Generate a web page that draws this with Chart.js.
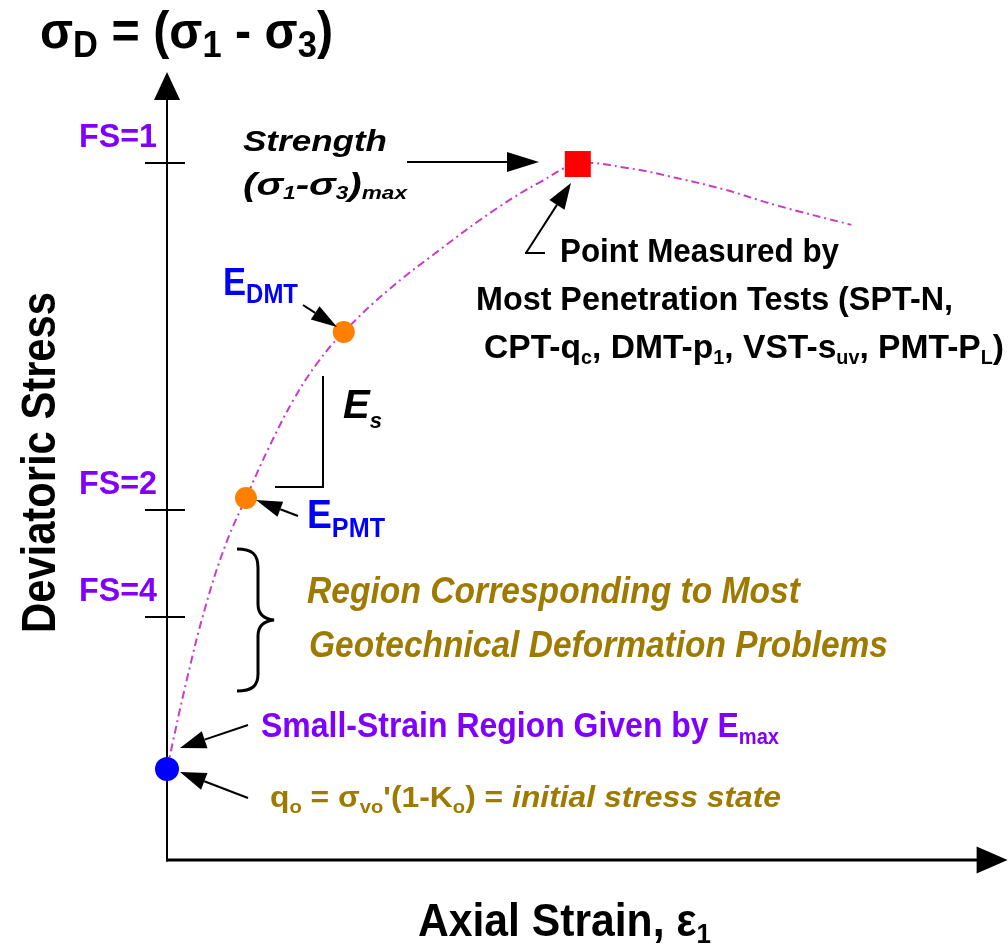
<!DOCTYPE html>
<html>
<head>
<meta charset="utf-8">
<script src="https://cdn.jsdelivr.net/npm/chart.js@4.4.0/dist/chart.umd.min.js"></script>
<style>
  html, body { margin: 0; padding: 0; background: #ffffff; }
  #wrap { width: 1008px; height: 945px; }
</style>
</head>
<body>
<div id="wrap"><canvas id="c" width="1008" height="945"></canvas></div>
<script>
// ---- Data (schematic units: axial strain 0-100, deviatoric stress 0-100) ----
const curveStrain = [0, 2.4, 4.8, 7.2, 9.6, 12.36, 15.37, 18.37, 21.49, 26.77, 33.13, 39.98, 45.38, 49.94, 55.94, 61.94, 67.95, 73.95, 83.19];
const curveStress = [11.55, 22.84, 32.61, 40.23, 45.94, 52.28, 58.38, 63.2, 67.01, 72.21, 77.41, 82.61, 86.04, 88.32, 87.82, 86.55, 85.03, 83.12, 80.6];
const initialStrain = [0];
const initialStress = [11.55];
const modulusStrain = [9.6, 21.49];   // E_PMT, E_DMT
const modulusStress = [45.94, 67.01];
const peakStrain = [49.94];
const peakStress = [88.32];
const fsValues = [88.45, 44.4, 30.8];
const fsLabels = ['FS=1', 'FS=2', 'FS=4'];

const toXY = (xs, ys) => xs.map((x, i) => ({ x: x, y: ys[i] }));

const FONT = "'Liberation Sans', Arial, Helvetica, sans-serif";
const PURPLE = '#8000ff';
const OLIVE = '#9e7b00';
const BLUE = '#0000ff';

// draw a run of text segments fitted to a target width
function fitText(ctx, segs, x, y, w, o) {
  const size = o.size, sub = o.sub || Math.round(size * 0.62), subDy = o.subDy || Math.round(size * 0.2);
  const weight = o.weight || 'bold';
  const fontFor = s => {
    const it = (s.it !== undefined ? s.it : o.italic) ? 'italic ' : '';
    return it + weight + ' ' + (s.s ? sub : size) + 'px ' + FONT;
  };
  let total = 0;
  const widths = segs.map(s => { ctx.font = fontFor(s); const m = ctx.measureText(s.t).width; total += m; return m; });
  const sx = w / total;
  ctx.save();
  ctx.translate(x, y);
  if (o.rotate) ctx.rotate(o.rotate);
  ctx.scale(sx, 1);
  ctx.fillStyle = o.color || '#000';
  ctx.textBaseline = 'alphabetic';
  ctx.textAlign = 'left';
  let cx = 0;
  segs.forEach((s, i) => {
    ctx.font = fontFor(s);
    ctx.fillText(s.t, cx, s.s ? subDy : 0);
    cx += widths[i];
  });
  ctx.restore();
}
const N = t => ({ t: t });
const S = t => ({ t: t, s: true });

function arrow(ctx, x1, y1, x2, y2, len, half, lw) {
  const a = Math.atan2(y2 - y1, x2 - x1);
  const bx = x2 - len * Math.cos(a), by = y2 - len * Math.sin(a);
  ctx.save();
  ctx.strokeStyle = '#000';
  ctx.fillStyle = '#000';
  ctx.lineWidth = lw || 2;
  ctx.beginPath(); ctx.moveTo(x1, y1); ctx.lineTo(bx, by); ctx.stroke();
  ctx.beginPath();
  ctx.moveTo(x2, y2);
  ctx.lineTo(bx + half * Math.sin(a), by - half * Math.cos(a));
  ctx.lineTo(bx - half * Math.sin(a), by + half * Math.cos(a));
  ctx.closePath(); ctx.fill();
  ctx.restore();
}

const axesPlugin = {
  id: 'axesPlugin',
  beforeDatasetsDraw(chart) {
    const ctx = chart.ctx, ca = chart.chartArea, ys = chart.scales.y;
    ctx.save();
    ctx.strokeStyle = '#000'; ctx.fillStyle = '#000';
    // y axis
    ctx.lineWidth = 2;
    ctx.beginPath(); ctx.moveTo(ca.left, ca.top + 26); ctx.lineTo(ca.left, ca.bottom + 1.5); ctx.stroke();
    ctx.beginPath(); ctx.moveTo(ca.left, ca.top); ctx.lineTo(ca.left - 13, ca.top + 28); ctx.lineTo(ca.left + 13, ca.top + 28); ctx.closePath(); ctx.fill();
    // x axis
    ctx.lineWidth = 3;
    ctx.beginPath(); ctx.moveTo(ca.left - 1, ca.bottom); ctx.lineTo(ca.right - 12, ca.bottom); ctx.stroke();
    ctx.beginPath(); ctx.moveTo(ca.right + 18, ca.bottom); ctx.lineTo(ca.right - 13, ca.bottom - 13.5); ctx.lineTo(ca.right - 13, ca.bottom + 13.5); ctx.closePath(); ctx.fill();
    // FS ticks
    ctx.lineWidth = 2;
    fsValues.forEach((v, i) => {
      const py = Math.round(ys.getPixelForValue(v));
      ctx.beginPath(); ctx.moveTo(ca.left - 22, py); ctx.lineTo(ca.left + 18, py); ctx.stroke();
      fitText(ctx, [N(fsLabels[i])], ca.left - 88, py - 16, 78, { size: 34, color: PURPLE });
    });
    ctx.restore();
  },
  afterDatasetsDraw(chart) {
    const ctx = chart.ctx;
    // title & axis titles
    fitText(ctx, [N('σ'), S('D'), N(' = ('), N('σ'), S('1'), N(' - '), N('σ'), S('3'), N(')')], 40, 48, 293, { size: 52, sub: 37, subDy: 9 });
    fitText(ctx, [N('Deviatoric Stress')], 55, 633, 341, { size: 48, rotate: -Math.PI / 2 });
    fitText(ctx, [N('Axial Strain, ε'), S('1')], 418, 936, 293, { size: 46, sub: 28, subDy: 7 });

    // Strength
    fitText(ctx, [N('Strength')], 243, 151, 144, { size: 30, italic: true });
    fitText(ctx, [N('(σ'), S('1'), N('-σ'), S('3'), N(')'), S('max')], 243, 195, 164, { size: 32, sub: 18, subDy: 4, italic: true });
    arrow(ctx, 407, 162, 539, 162, 32, 10, 2);

    // point measured
    fitText(ctx, [N('Point Measured by')], 560, 262, 279, { size: 34 });
    fitText(ctx, [N('Most Penetration Tests (SPT-N,')], 476, 310, 477, { size: 34 });
    fitText(ctx, [N('CPT-q'), S('c'), N(', DMT-p'), S('1'), N(', VST-s'), S('uv'), N(', PMT-P'), S('L'), N(')')], 484, 358, 520, { size: 34, sub: 20, subDy: 6 });
    arrow(ctx, 526, 253, 571, 183, 26, 9, 2);
    ctx.save(); ctx.strokeStyle = '#000'; ctx.lineWidth = 2;
    ctx.beginPath(); ctx.moveTo(525, 253); ctx.lineTo(545, 253); ctx.stroke(); ctx.restore();

    // moduli labels
    fitText(ctx, [N('E'), S('DMT')], 223, 295, 75, { size: 39, sub: 27, subDy: 8, color: BLUE });
    arrow(ctx, 303, 305, 337, 327, 26, 8, 2);
    fitText(ctx, [N('E'), S('PMT')], 307, 528, 78, { size: 40, sub: 27, subDy: 9, color: BLUE });
    arrow(ctx, 298, 516, 256, 500, 26, 8, 2);

    // Es triangle
    ctx.save(); ctx.strokeStyle = '#000'; ctx.lineWidth = 2;
    ctx.beginPath(); ctx.moveTo(323, 376); ctx.lineTo(323, 487); ctx.lineTo(275, 487); ctx.stroke(); ctx.restore();
    fitText(ctx, [N('E'), S('s')], 343, 418, 39, { size: 40, sub: 22, subDy: 10, italic: true });

    // brace
    ctx.save(); ctx.strokeStyle = '#000'; ctx.lineWidth = 3;
    ctx.beginPath();
    ctx.moveTo(237, 549);
    ctx.bezierCurveTo(252, 549, 258, 554, 258, 568);
    ctx.lineTo(258, 604);
    ctx.bezierCurveTo(258, 614, 264, 619, 274, 620);
    ctx.bezierCurveTo(264, 621, 258, 626, 258, 636);
    ctx.lineTo(258, 674);
    ctx.bezierCurveTo(258, 686, 252, 691, 237, 691);
    ctx.stroke(); ctx.restore();

    fitText(ctx, [N('Region Corresponding to Most')], 307, 603, 493, { size: 36, italic: true, color: OLIVE });
    fitText(ctx, [N('Geotechnical Deformation Problems')], 309, 657, 579, { size: 36, italic: true, color: OLIVE });

    fitText(ctx, [N('Small-Strain Region Given by E'), S('max')], 261, 737, 518, { size: 35, sub: 22, subDy: 7, color: PURPLE });
    arrow(ctx, 248, 725, 180, 748, 26, 9, 2);

    fitText(ctx, [N('q'), S('o'), N(' = σ'), S('vo'), N("'(1-K"), S('o'), N(') = '), { t: 'initial stress state', it: true }], 270, 807, 511, { size: 30, sub: 19, subDy: 6, color: OLIVE });
    arrow(ctx, 248, 798, 180, 772, 26, 9, 2);
  }
};

new Chart(document.getElementById('c'), {
  type: 'scatter',
  data: {
    datasets: [
      {
        label: 'Stress-strain curve',
        data: toXY(curveStrain, curveStress),
        showLine: true,
        borderColor: '#c83cc8',
        borderWidth: 2,
        borderDash: [8, 4, 2, 4],
        pointRadius: 0,
        tension: 0.4,
        clip: false,
        order: 3
      },
      {
        label: 'Initial stress state',
        data: toXY(initialStrain, initialStress),
        pointStyle: 'circle', pointRadius: 12, backgroundColor: BLUE, borderWidth: 0,
        clip: false, order: 1
      },
      {
        label: 'Moduli',
        data: toXY(modulusStrain, modulusStress),
        pointStyle: 'circle', pointRadius: 11, backgroundColor: '#ff8000', borderWidth: 0,
        clip: false, order: 1
      },
      {
        label: 'Strength',
        data: toXY(peakStrain, peakStress),
        pointStyle: 'rect', pointRadius: 18.4, backgroundColor: '#ff0000', borderWidth: 0,
        clip: false, order: 1
      }
    ]
  },
  options: {
    responsive: false,
    animation: false,
    devicePixelRatio: 1,
    layout: { padding: { left: 167, top: 72, right: 8, bottom: 85 } },
    plugins: { legend: { display: false }, tooltip: { enabled: false } },
    scales: {
      x: { type: 'linear', min: 0, max: 100, display: false },
      y: { type: 'linear', min: 0, max: 100, display: false }
    }
  },
  plugins: [axesPlugin]
});
</script>
</body>
</html>
